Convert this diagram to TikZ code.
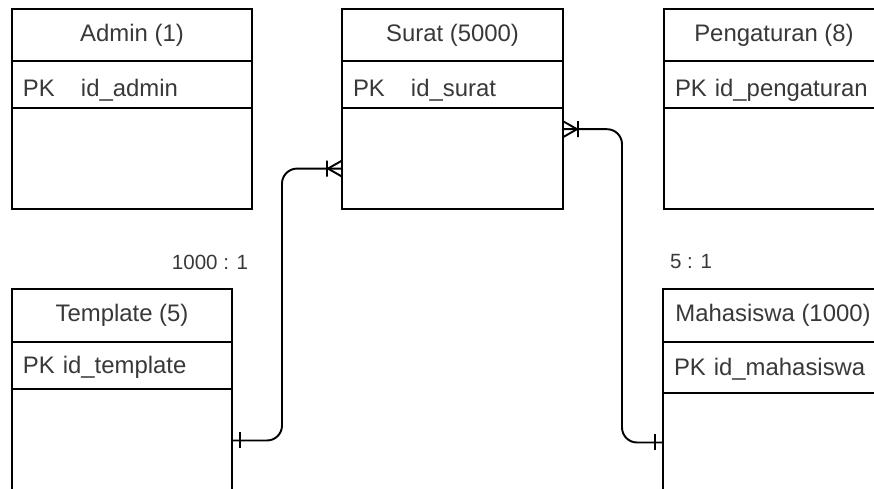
\documentclass[tikz,border=0pt]{standalone}
\usepackage{fontspec}
\setmainfont{Liberation Sans}
\usetikzlibrary{positioning,calc,decorations.markings}

\begin{document}
\begin{tikzpicture}[x=0.2mm, y=0.2mm,
  every node/.style={font=\fontsize{13.6}{16}\selectfont, text=black!78},
  head/.style={draw, line width=1.1pt, outer sep=0pt, inner sep=0pt, minimum height=10.4mm},
  keyrow/.style={draw, line width=1.1pt, outer sep=0pt, inner xsep=2.2mm, inner ysep=0pt,
                 minimum height=9.4mm, align=left, text height=3.4mm, text depth=0pt},
  lowkey/.style={keyrow, text height=5mm},
  bodyrow/.style={draw, line width=1.1pt, outer sep=0pt, inner sep=0pt, minimum height=20.2mm},
  ratio/.style={font=\fontsize{11.7}{14}\selectfont},
  link/.style={line width=1.1pt, rounded corners=3mm},
  one/.style={postaction={decorate, decoration={markings,
      mark=at position 1.6mm with {\draw[line width=1.1pt, sharp corners] (0,-1.6mm) -- (0,1.6mm);}}}},
  many/.style={postaction={decorate, decoration={markings,
      mark=at position 1 with {\draw[line width=1.1pt, sharp corners] (-3mm,-1.6mm) -- (-3mm,1.6mm)
        (0,1.6mm) -- (-2.8mm,0) -- (0,-1.6mm);}}}}
]
\useasboundingbox (0,0) rectangle (874,489);
\clip (0,0) rectangle (874,489);

% top row of tables
\node[head, minimum width=48mm, anchor=north west] (atitle) at (12,480) {Admin (1)};
\node[lowkey, text width=43.6mm, below=0pt of atitle] (akey) {\makebox[11.6mm][l]{PK}id\_admin};
\node[bodyrow, minimum width=48mm, below=0pt of akey] (abody) {};

\node[head, minimum width=44.2mm, anchor=north west] (stitle) at (342,480) {Surat (5000)};
\node[lowkey, text width=39.8mm, below=0pt of stitle] (skey) {\makebox[11.6mm][l]{PK}id\_surat};
\node[bodyrow, minimum width=44.2mm, below=0pt of skey] (sbody) {};

\node[head, minimum width=44mm, anchor=north west] (ptitle) at (664,480) {Pengaturan (8)};
\node[lowkey, text width=39.6mm, below=0pt of ptitle] (pkey) {PK id\_pengaturan};
\node[bodyrow, minimum width=44mm, below=0pt of pkey] (pbody) {};

% bottom row of tables
\node[head, minimum width=44mm, minimum height=10.6mm, anchor=north west] (ttitle) at (12,200) {Template (5)};
\node[keyrow, text width=39.6mm, below=0pt of ttitle] (tkey) {PK id\_template};
\node[bodyrow, minimum width=44mm, minimum height=20.6mm, below=0pt of tkey] (tbody) {};

\node[head, minimum width=44mm, minimum height=10.6mm, anchor=north west] (mtitle) at (663,200) {Mahasiswa (1000)};
\node[keyrow, text width=39.6mm, minimum height=10.2mm, below=0pt of mtitle] (mkey) {PK id\_mahasiswa};
\node[bodyrow, minimum width=44mm, minimum height=19.8mm, below=0pt of mkey] (mbody) {};

% cardinalities
\node[ratio] (r1) at (210,227) {1000 : 1};
\node[ratio] (r2) at (691,227) {5 : 1};

% relations
\coordinate (sin) at ($(sbody.north west)!0.6!(sbody.south west)$);
\coordinate (sout) at ($(sbody.north east)!0.21!(sbody.south east)$);
\draw[link, one, many] (tbody.east) -- ++(50,0) |- (sin);
\draw[link, one, many] (mbody.west) -- ++(-41,0) |- (sout);
\end{tikzpicture}
\end{document}
